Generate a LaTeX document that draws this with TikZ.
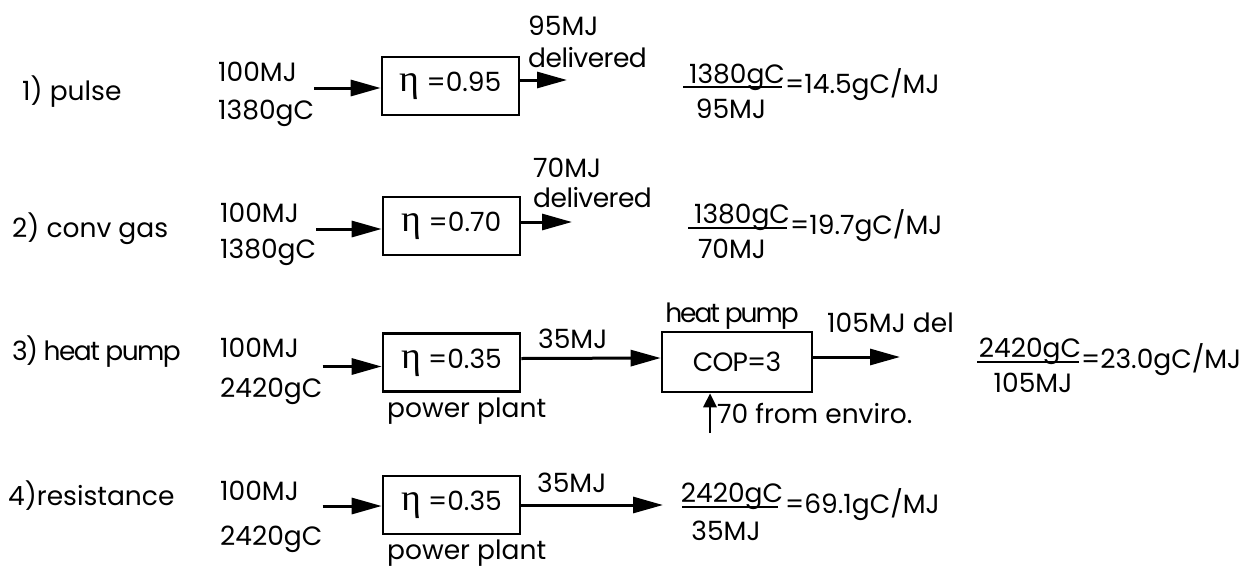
\documentclass[tikz,border=0pt]{standalone}
\usepackage{fontspec}
\setmainfont{Poppins}
\newfontfamily\etafont{Liberation Serif}
\usetikzlibrary{arrows.meta}
\newcommand\dfs{\fontsize{26.5}{30}\selectfont}
\newcommand\myeta{{\etafont\fontsize{38}{40}\selectfont η}}
\newcommand\tight[2]{{\addfontfeature{LetterSpace=#1}#2}}
\begin{document}
\begin{tikzpicture}[x=1pt,y=-1pt,
  lbl/.style={inner sep=0pt, anchor=base west, font=\dfs},
  ctr/.style={inner sep=0pt, anchor=base, font=\dfs},
  effbox/.style={draw, line width=2.6pt, minimum width=137pt, minimum height=58pt, inner sep=0pt, font=\dfs},
  arr/.style={line width=3pt, -{Triangle[length=30pt,width=16pt]}},
  upar/.style={line width=2.8pt, -{Triangle[length=14pt,width=13pt]}},
  fracline/.style={line width=2.2pt}]
\fill[white] (0,0) rectangle (1254,568);
\useasboundingbox (0,0) rectangle (1254,568);

% ---------- Row 1
\node[lbl] (r1) at (22,100) {1) pulse};
\node[lbl] (i1a) at (218,81) {100MJ};
\node[lbl] (i1b) at (218,119) {1380gC};
\node[effbox] (b1) at (450.5,86) {\myeta\ =0.95};
\draw[arr] ([yshift=-2pt]b1.west -| i1b.east) -- ([yshift=-2pt]b1.west);
\coordinate (e1) at (567,80);
\draw[arr] (b1.east |- e1) -- (e1);
\node[lbl] (t1a) at (528,35) {95MJ};
\node[lbl] (t1b) at (528,67) {\tight{-2}{delivered}};
\node[ctr] (n1) at (737,83) {1380gC};
\node[ctr] (d1) at (731,118) {95MJ};
\coordinate (f1a) at (683,87); \coordinate (f1b) at (782,87);
\draw[fracline] (f1a) -- (f1b);
\node[lbl] (q1) at (785,93) {=14.5gC/MJ};

% ---------- Row 2
\node[lbl] (r2) at (12,237) {2) conv gas};
\node[lbl] (i2a) at (220,222) {100MJ};
\node[lbl] (i2b) at (220,258) {1380gC};
\node[effbox] (b2) at (451.5,226) {\myeta\ =0.70};
\draw[arr] ([yshift=-3pt]b2.west -| i2b.east) -- ([yshift=-3pt]b2.west);
\coordinate (e2) at (572,222);
\draw[arr] (b2.east |- e2) -- (e2);
\node[lbl] (t2a) at (533,177) {70MJ};
\node[lbl] (t2b) at (533,207) {\tight{-2}{delivered}};
\node[ctr] (n2) at (742,223) {1380gC};
\node[ctr] (d2) at (732,258) {70MJ};
\coordinate (f2a) at (688,228); \coordinate (f2b) at (787,228);
\draw[fracline] (f2a) -- (f2b);
\node[lbl] (q2) at (790,234) {=19.7gC/MJ};

% ---------- Row 3
\node[lbl] (r3) at (12,360) {\tight{-6}{3) heat pump}};
\node[lbl] (i3a) at (220,357) {100MJ};
\node[lbl] (i3b) at (220,397) {2420gC};
\node[effbox] (b3) at (451.5,362.5) {\myeta\ =0.35};
\draw[arr] ([yshift=-4pt]b3.west -| i3b.east) -- ([yshift=-4pt]b3.west);
\node[lbl] (p3) at (387,417) {power plant};
\node[effbox, minimum width=150pt, minimum height=60pt] (hp) at (737,362) {\tight{-3}{COP=3}};
\node[ctr] (hpl) at (732,322) {\tight{-8}{heat pump}};
\draw[arr] ([yshift=4pt]b3.east) -- ([yshift=4pt]hp.west);
\node[lbl] (t3) at (538,348) {35MJ};
\coordinate (e3) at (900,357);
\draw[arr] (hp.east |- e3) -- (e3);
\node[lbl] (t3b) at (827,332) {105MJ del};
\coordinate (u3) at (710,433);
\draw[upar] (u3) -- (u3 |- hp.south);
\node[lbl] (env) at (717,423) {70 from enviro.};
\node[ctr] (n3) at (1030,357) {2420gC};
\node[ctr] (d3) at (1033,392) {105MJ};
\coordinate (f3a) at (977,362); \coordinate (f3b) at (1079,362);
\draw[fracline] (f3a) -- (f3b);
\node[lbl] (q3) at (1081,368) {=23.0gC/MJ};

% ---------- Row 4
\node[lbl] (r4) at (8,505) {4)resistance};
\node[lbl] (i4a) at (220,500) {100MJ};
\node[lbl] (i4b) at (220,545) {2420gC};
\node[effbox] (b4) at (451.5,505) {\myeta\ =0.35};
\draw[arr] ([yshift=-1pt]b4.west -| i4b.east) -- ([yshift=-1pt]b4.west);
\node[lbl] (p4) at (387,559) {power plant};
\coordinate (e4) at (663,505);
\draw[arr] (b4.east |- e4) -- (e4);
\node[lbl] (t4) at (537,492) {35MJ};
\node[ctr] (n4) at (732,502) {2420gC};
\node[ctr] (d4) at (726,540) {35MJ};
\coordinate (f4a) at (682,507); \coordinate (f4b) at (778,507);
\draw[fracline] (f4a) -- (f4b);
\node[lbl] (q4) at (785,513) {=69.1gC/MJ};
\end{tikzpicture}
\end{document}
